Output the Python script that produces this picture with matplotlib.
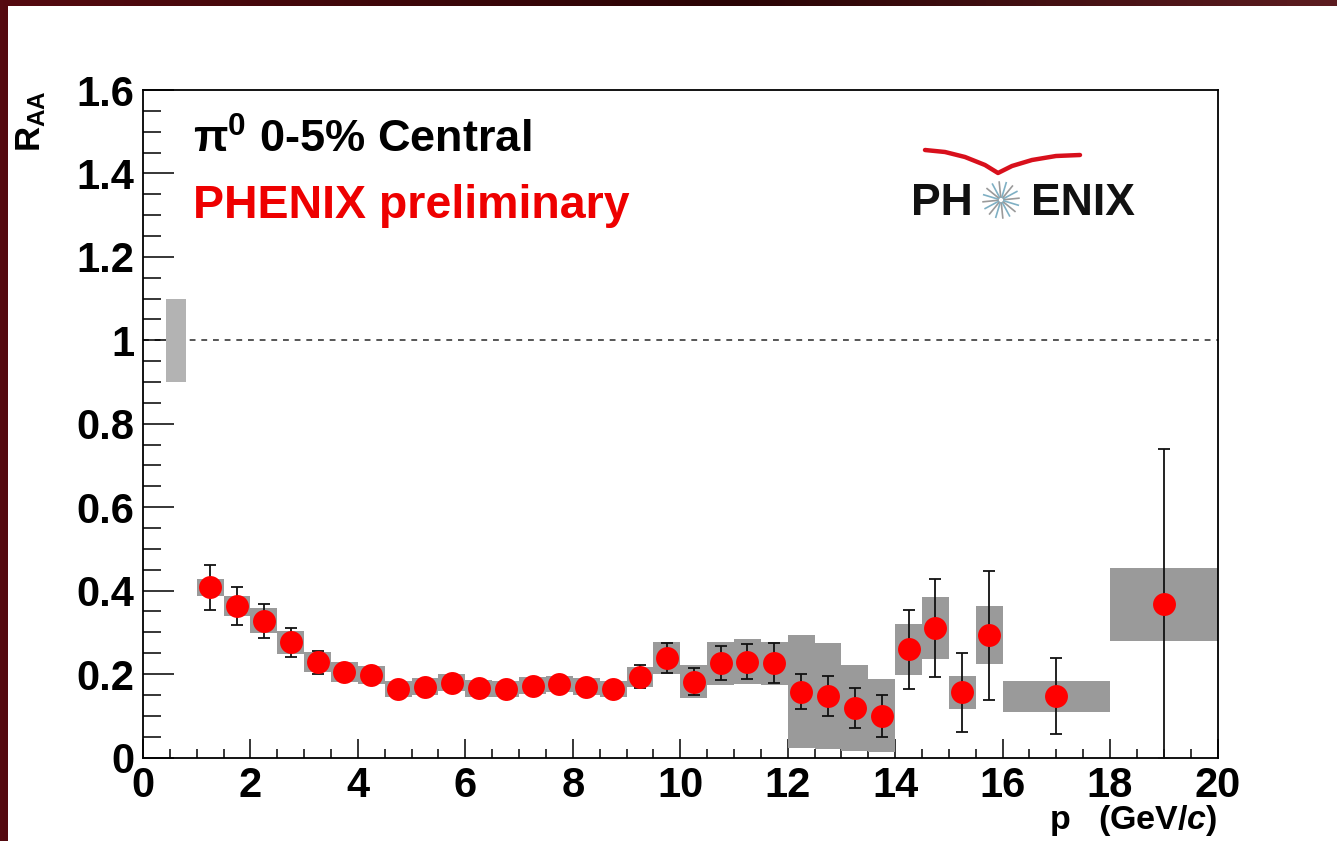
import numpy as np
import matplotlib
matplotlib.use("Agg")
import matplotlib.pyplot as plt
from matplotlib.patches import Rectangle
from matplotlib.ticker import MultipleLocator, FuncFormatter

plt.rcParams['font.family'] = ['Liberation Sans', 'DejaVu Sans']
plt.rcParams['font.weight'] = 'bold'
plt.rcParams['mathtext.fontset'] = 'custom'
plt.rcParams['mathtext.rm'] = 'Liberation Sans:bold'
plt.rcParams['mathtext.bf'] = 'Liberation Sans:bold'
plt.rcParams['mathtext.it'] = 'Liberation Sans:bold:italic'

# ---------------- data ----------------
pt = [1.25, 1.75, 2.25, 2.75, 3.25, 3.75, 4.25, 4.75, 5.25, 5.75, 6.25,
      6.75, 7.25, 7.75, 8.25, 8.75, 9.25, 9.75, 10.25, 10.75, 11.25, 11.75,
      12.25, 12.75, 13.25, 13.75, 14.25, 14.75, 15.25, 15.75, 17.0, 19.0]
bin_width = [0.5] * 30 + [2.0, 2.0]
raa = [0.408, 0.363, 0.328, 0.276, 0.228, 0.206, 0.198, 0.164, 0.170, 0.179,
       0.166, 0.164, 0.172, 0.176, 0.170, 0.164, 0.194, 0.238, 0.182, 0.226,
       0.230, 0.226, 0.158, 0.147, 0.119, 0.100, 0.259, 0.311, 0.156, 0.293,
       0.147, 0.367]
stat_hi = [0.054, 0.046, 0.041, 0.035, 0.027, 0.012, 0.012, 0.010, 0.010,
           0.010, 0.010, 0.010, 0.010, 0.010, 0.010, 0.010, 0.028, 0.036,
           0.032, 0.041, 0.042, 0.048, 0.042, 0.048, 0.048, 0.050, 0.095,
           0.118, 0.095, 0.154, 0.091, 0.372]
stat_lo = [0.054, 0.046, 0.041, 0.035, 0.027, 0.012, 0.012, 0.010, 0.010,
           0.010, 0.010, 0.010, 0.010, 0.010, 0.010, 0.010, 0.028, 0.036,
           0.032, 0.041, 0.042, 0.048, 0.042, 0.048, 0.048, 0.050, 0.095,
           0.118, 0.095, 0.154, 0.091, 0.367]
sys_err = [0.021, 0.025, 0.030, 0.028, 0.024, 0.024, 0.021, 0.020, 0.020,
           0.020, 0.020, 0.020, 0.020, 0.020, 0.020, 0.020, 0.024, 0.039,
           0.040, 0.052, 0.053, 0.052, 0.135, 0.127, 0.103, 0.087, 0.062,
           0.074, 0.039, 0.069, 0.037, 0.087]
norm_x = 0.61
norm_width = 0.37
norm_val = 1.0
norm_err = 0.10

x_ticks = [0, 2, 4, 6, 8, 10, 12, 14, 16, 18, 20]
y_ticks = [0, 0.2, 0.4, 0.6, 0.8, 1.0, 1.2, 1.4, 1.6]

W, H = 1337, 841
fig = plt.figure(figsize=(W / 100, H / 100), dpi=100)

# background: dark red frame with gradient, white page
bg = fig.add_axes([0, 0, 1, 1], zorder=-10)
cols = np.array([[0x55, 0x0a, 0x10], [0x2a, 0x04, 0x05], [0x5c, 0x1c, 0x20]]) / 255.0
t = np.linspace(0, 1, 400)
grad = np.empty((1, 400, 3))
for c in range(3):
    grad[0, :, c] = np.interp(t, [0, 0.55, 1], cols[:, c])
bg.imshow(grad, extent=[0, 1, 0, 1], aspect='auto', transform=bg.transAxes)
bg.add_patch(Rectangle((8 / W, 0), 1, (H - 6) / H, transform=bg.transAxes,
                       facecolor='white', edgecolor='none'))
bg.set_axis_off()

ax = fig.add_axes([143 / W, (H - 757.5) / H, (1217.5 - 143) / W, (757.5 - 90) / H])

x = np.array(pt)
y = np.array(raa)
s = np.array(sys_err)

ax.axhline(1.0, color='#555555', lw=1.4, ls=(0, (3, 3)), zorder=1)
ax.bar([norm_x], [2 * norm_err], width=norm_width, bottom=[norm_val - norm_err],
       color='#b3b3b3', edgecolor='none', zorder=2)
ax.bar(x, 2 * s, width=bin_width, bottom=y - s, color='#9a9a9a',
       edgecolor='none', zorder=2)
ax.errorbar(x, y, yerr=[stat_lo, stat_hi], fmt='none', ecolor='#111111',
            elinewidth=1.3, capsize=4, capthick=1.3, zorder=3)
ax.plot(x, y, 'o', color='#ff0000', ms=16.5, mec='none', zorder=4)

ax.set_xlim(0, 20)
ax.set_ylim(0, 1.6)
ax.set_xticks(x_ticks)
ax.set_yticks(y_ticks)
ax.xaxis.set_minor_locator(MultipleLocator(0.5))
ax.yaxis.set_minor_locator(MultipleLocator(0.05))
ax.yaxis.set_major_formatter(FuncFormatter(lambda v, p: '%g' % v))
ax.xaxis.set_major_formatter(FuncFormatter(lambda v, p: '%g' % v))
ax.tick_params(axis='x', which='major', direction='in', length=14, width=1.1,
               labelsize=30, pad=6)
ax.tick_params(axis='x', which='minor', direction='in', length=6.5, width=1.1)
ax.tick_params(axis='y', which='major', direction='in', length=22, width=1.1,
               labelsize=30, pad=6)
ax.tick_params(axis='y', which='minor', direction='in', length=13, width=1.1)
for sp in ax.spines.values():
    sp.set_linewidth(1.3)

# annotations
ax.text(0.93, 1.45, r'$\mathrm{\pi}^{0}$ 0-5% Central', fontsize=32.5,
        fontweight='bold', color='black', va='baseline', ha='left')
ax.text(0.93, 1.292, 'PHENIX preliminary', fontsize=33.5, fontweight='bold',
        color='#ee0000', va='baseline', ha='left')

# PHENIX logo
logo_base = (757.5 - 215) / 417.5
ax.text(14.3, logo_base, 'PH', fontsize=32, fontweight='bold', color='#111111',
        va='baseline', ha='left')
ax.text(18.47, logo_base, 'ENIX', fontsize=32, fontweight='bold', color='#111111',
        va='baseline', ha='right')
cx, cy = 1001 / W, (H - 200) / H
for k in range(16):
    a = 2 * np.pi * k / 16 + 0.1
    r0, r1 = 3, 18
    col = '#7fb0c4' if k % 2 else '#9a9a9a'
    fig.add_artist(plt.Line2D([cx + r0 * np.cos(a) / W, cx + r1 * np.cos(a) / W],
                              [cy + r0 * np.sin(a) / H, cy + r1 * np.sin(a) / H],
                              color=col, lw=1.2, transform=fig.transFigure))
sw_x = np.array([925, 945, 965, 985, 998, 1012, 1032, 1056, 1080])
sw_y = np.array([150, 152, 157, 165, 173, 166, 160, 156, 155])
fig.add_artist(plt.Line2D(sw_x / W, (H - sw_y) / H, color='#d8101c', lw=3.2,
                          solid_capstyle='round', solid_joinstyle='round',
                          transform=fig.transFigure))

# axis titles
fig.text(31 / W, (H - 90) / H, r'$\mathrm{R}_{\mathrm{AA}}$', rotation=90,
         fontsize=25, fontweight='bold', ha='center', va='top')
fig.text(1217 / W, (H - 829) / H, r'p   (GeV/$c$)', fontsize=24.5,
         fontweight='bold', ha='right', va='baseline')

fig.savefig('out.png', dpi=100)
